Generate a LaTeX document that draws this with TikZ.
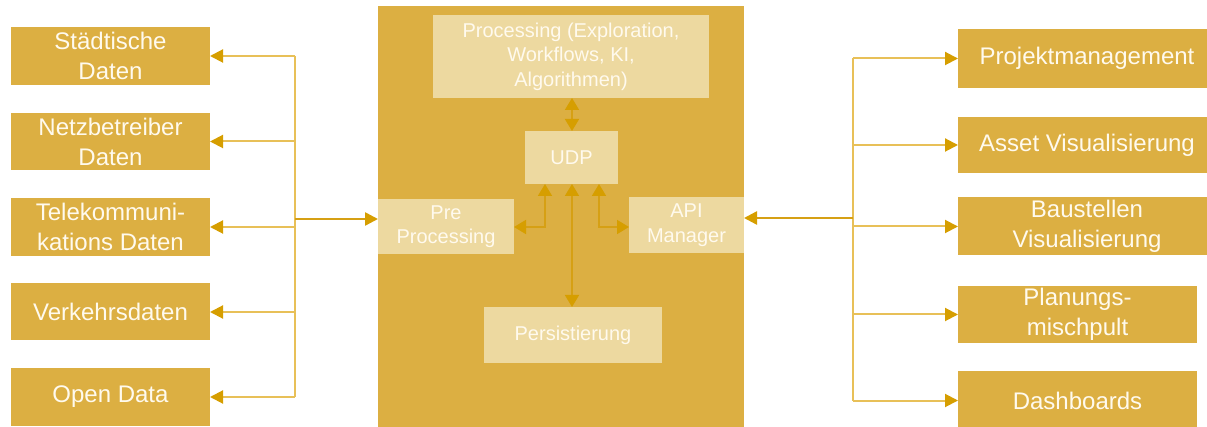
\documentclass[tikz,border=0pt]{standalone}
\usepackage{fontspec}
\setmainfont{Liberation Sans}
\usetikzlibrary{arrows.meta}
\definecolor{gold}{RGB}{220,175,66}
\definecolor{lightgold}{RGB}{237,217,160}
\definecolor{linegold}{RGB}{232,192,88}
\definecolor{tipgold}{RGB}{214,158,0}
\definecolor{innerline}{RGB}{214,160,20}
\definecolor{txt}{RGB}{255,250,238}
\begin{document}
\begin{tikzpicture}[x=1pt,y=-1pt,
  outerbox/.style={fill=gold, text=txt, align=center, inner sep=0pt, outer sep=0pt,
    font=\fontsize{24}{30}\selectfont},
  innerbox/.style={fill=lightgold, text=txt, align=center, inner sep=0pt, outer sep=0pt,
    font=\fontsize{20}{24.5}\selectfont},
  conn/.style={draw=linegold, line width=2pt, -{Triangle[length=13pt,width=13pt,color=tipgold]}},
  busline/.style={draw=linegold, line width=2pt},
  mainconn/.style={draw=innerline, line width=2.5pt, -{Triangle[length=13pt,width=13pt,color=tipgold]}},
  biarr/.style={draw=innerline, line width=1.8pt, {Triangle[length=12pt,width=14pt,color=tipgold]}-{Triangle[length=12pt,width=14pt,color=tipgold]}}
]
\useasboundingbox (0,0) rectangle (1207,427);
\clip (0,0) rectangle (1207,427);

% central frame
\node[fill=gold, inner sep=0pt, outer sep=0pt, minimum width=366pt, minimum height=440pt, anchor=north west] (main) at (378,6) {};

% left boxes
\node[outerbox, minimum width=199pt, minimum height=58pt] (L1) at (110.5,56) {Städtische\\Daten};
\node[outerbox, minimum width=199pt, minimum height=57pt] (L2) at (110.5,141.5) {Netzbetreiber\\Daten};
\node[outerbox, minimum width=199pt, minimum height=58pt] (L3) at (110.5,227) {Telekommuni-\\kations Daten};
\node[outerbox, minimum width=199pt, minimum height=57pt] (L4) at (110.5,312) {Verkehrsdaten};
\node[outerbox, minimum width=199pt, minimum height=58pt] (L5) at (110.5,397) {Open Data};

% right boxes
\node[outerbox, minimum width=258pt, minimum height=59pt] (R1) at (1087,58.5) {Projektmanagement};
\node[outerbox, minimum width=258pt, minimum height=56pt] (R2) at (1087,145) {Asset Visualisierung};
\node[outerbox, minimum width=258pt, minimum height=58pt] (R3) at (1087,226.5) {Baustellen\\Visualisierung};
\node[outerbox, minimum width=239pt, minimum height=57pt] (R4) at (1077.5,314.5) {Planungs-\\mischpult};
\node[outerbox, minimum width=239pt, minimum height=59pt] (R5) at (1077.5,400.5) {Dashboards};

% inner boxes
\node[innerbox, minimum width=276pt, minimum height=83pt] (proc) at (571,56.5) {Processing (Exploration,\\Workflows, KI,\\Algorithmen)};
\node[innerbox, minimum width=93pt, minimum height=53pt] (udp) at (571.5,157.5) {UDP};
\node[innerbox, minimum width=136pt, minimum height=55pt] (pre) at (446,226.5) {Pre\\Processing};
\node[innerbox, minimum width=115pt, minimum height=56pt] (api) at (686.5,225) {API\\Manager};
\node[innerbox, minimum width=178pt, minimum height=56pt] (pers) at (573,335) {Persistierung};

% left bus
\coordinate (busL) at (295,219);
\draw[busline] (L1 -| busL) -- (L5 -| busL);
\foreach \n in {L1,L2,L3,L4,L5} \draw[conn] (\n -| busL) -- (\n.east);
\draw[mainconn] (busL) -- (busL -| pre.west);

% right bus
\coordinate (busR) at (853,218);
\draw[busline] (R1 -| busR) -- (R5 -| busR);
\foreach \n in {R1,R2,R3,R4,R5} \draw[conn] (\n -| busR) -- (\n.west);
\draw[mainconn] (busR) -- (busR -| api.east);

% inner arrows
\draw[biarr] (proc.south -| 572,0) -- (udp.north -| 572,0);
\draw[biarr] (udp.south -| 572,0) -- (pers.north -| 572,0);
\draw[biarr] ([xshift=20pt]udp.south west) |- ([yshift=-0.5pt]pre.east);
\draw[biarr] ([xshift=-19pt]udp.south east) |- ([yshift=-2pt]api.west);
\end{tikzpicture}
\end{document}
